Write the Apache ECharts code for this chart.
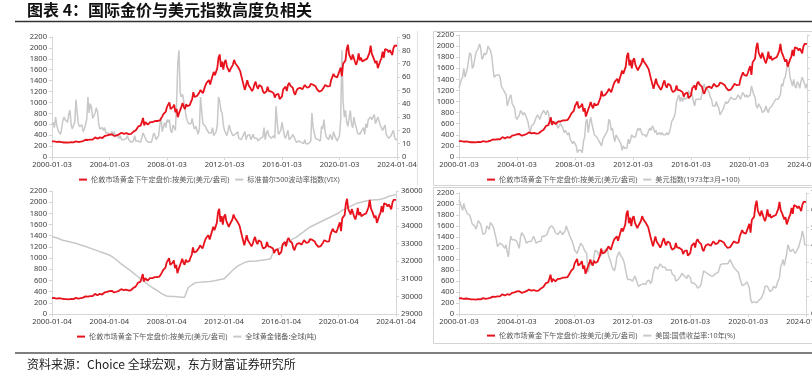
<!DOCTYPE html>
<html><head><meta charset="utf-8">
<script src="https://cdn.jsdelivr.net/npm/echarts@6/dist/echarts.min.js"></script>
<style>html,body{margin:0;padding:0;background:#fff}#c{width:812px;height:384px}</style>
</head><body><div id="c"></div>
<script>
// London PM gold fix, USD/oz (monthly readings, 2000-01 .. 2024-01)
const gold = [
285,305,286,279,275,288,282,275,274,270,266,272,
266,262,263,261,272,270,267,273,288,280,275,277,
283,297,293,303,316,322,312,310,320,317,319,340,
360,356,335,330,360,352,348,365,385,380,395,412,
410,400,415,395,385,392,398,405,415,425,445,440,
425,430,436,432,420,435,425,440,465,472,490,515,
560,555,575,640,715,580,640,625,595,600,640,630,
640,670,660,680,660,650,670,670,740,785,820,830,
920,960,1000,880,900,920,960,820,880,730,800,860,
920,990,920,880,970,930,940,950,1010,1060,1190,1100,
1080,1120,1110,1180,1230,1250,1170,1240,1310,1360,1390,1410,
1330,1410,1440,1560,1500,1510,1630,1820,1880,1650,1750,1600,
1740,1780,1660,1650,1560,1610,1620,1690,1780,1720,1730,1660,
1680,1580,1600,1400,1390,1230,1320,1410,1320,1350,1250,1210,
1250,1330,1380,1290,1250,1320,1300,1290,1210,1170,1190,1200,
1290,1210,1180,1200,1190,1170,1090,1140,1110,1160,1060,1060,
1110,1240,1230,1290,1210,1320,1360,1310,1320,1270,1180,1140,
1210,1250,1245,1270,1265,1240,1270,1320,1290,1270,1275,1290,
1340,1315,1325,1315,1295,1250,1220,1200,1190,1215,1225,1280,
1320,1315,1295,1275,1300,1410,1430,1525,1480,1510,1460,1515,
1580,1640,1480,1710,1730,1770,1970,2060,1880,1900,1780,1880,
1860,1740,1690,1770,1900,1770,1820,1750,1750,1780,1790,1800,
1790,1910,2040,1890,1840,1820,1720,1760,1630,1640,1760,1810,
1930,1820,1980,2000,1960,1920,1960,1920,1870,1990,2040,2070,
2040];
// S&P 500 volatility index (VIX)
const vix = [
24,26,22,30,24,20,19,17,21,27,30,28,
27,26,32,35,24,21,24,26,43,33,25,23,
22,24,19,21,21,28,45,33,40,37,29,30,
33,37,34,25,21,21,22,20,22,18,17,18,
16,15,19,17,19,15,17,17,14,16,13,13,
13,12,14,16,13,12,11,12,12,16,12,11,
12,12,11,12,18,16,15,12,12,11,10,11,
11,18,16,13,13,16,24,30,19,19,26,22,
28,26,28,20,18,24,25,20,40,70,80,48,
45,47,42,36,30,27,25,25,25,29,24,21,
23,22,17,21,45,34,25,26,23,21,22,18,
19,18,22,16,17,19,24,45,42,35,33,24,
20,18,16,17,24,20,19,16,15,17,16,19,
14,15,13,15,14,19,13,16,16,17,13,14,
17,14,15,14,12,11,14,13,15,22,13,18,
20,16,15,14,13,16,14,38,26,17,16,20,
26,25,16,14,15,20,13,12,15,17,15,13,
11,11,12,13,11,11,10,13,10,10,10,10,
12,33,22,18,14,14,13,12,12,23,21,28,
19,15,15,13,17,16,13,19,16,14,12,13,
16,28,80,42,30,35,26,23,29,35,25,22,
30,25,22,18,19,17,19,18,22,17,25,22,
28,29,30,28,30,32,25,24,30,31,24,22,
20,21,24,17,17,14,13,16,17,20,15,13,
13];
// US dollar index (1973-03 = 100)
const dxy = [
101,103,105,106,110,106,108,110,114,117,116,110,
111,114,117,117,119,121,119,114,115,117,116,117,
120,119,118,116,111,106,106,107,107,107,106,102,
101,100,100,98,93,95,97,98,94,93,92,88,
87,88,89,91,90,89,90,89,89,86,83,81,
84,84,85,85,88,89,89,87,89,90,91,91,
89,91,90,86,85,86,85,85,86,86,83,84,
85,84,83,81,82,82,80,81,78,77,76,77,
76,75,72,73,73,73,72,77,79,86,87,81,
85,88,85,85,80,80,79,78,77,76,75,78,
79,80,81,82,87,86,82,83,79,77,80,80,
78,77,76,73,75,74,74,74,78,76,78,80,
79,79,79,79,83,82,83,81,80,80,80,79,
79,82,83,82,84,83,81,82,80,80,81,80,
81,80,80,80,81,80,81,83,86,87,88,90,
95,95,98,95,97,95,97,96,96,97,100,98,
99,98,95,93,96,96,96,96,96,98,101,103,
100,101,100,99,97,96,93,93,93,95,93,92,
89,90,90,92,94,95,94,95,95,97,97,96,
96,96,97,98,98,96,98,99,99,97,98,97,
97,98,102,100,98,97,93,92,94,94,92,90,
90,91,93,91,90,92,92,93,94,94,96,96,
96,97,98,103,102,105,106,109,112,111,106,104,
102,105,102,101,104,103,101,104,106,106,103,101,
103];
// Global gold reserves, tonnes (quarterly, 2000Q1 .. 2024Q1)
const reservesQ = [
33400,33350,33280,33200, 33150,33100,33050,33000, 32930,32870,32800,32720,
32650,32580,32500,32430, 32360,32230,32080,31900, 31750,31600,31450,31280,
31120,30960,30800,30650, 30500,30380,30250,30120, 30025,30000,29990,29980,
29960,29950,30500,30650, 30780,30800,30820,30840, 30850,30880,30920,30960,
31000,31200,31400,31600, 31750,31850,31950,32000, 32000,32020,32050,32080,
32100,32150,32650,32700, 32800,32950,33100,33250, 33350,33500,33650,33800,
33950,34050,34150,34250, 34350,34450,34550,34650, 34750,34900,35000,35100,
35200,35300,35350,35400, 35450,35480,35500,35500, 35550,35600,35700,35750,
35800];
// US 10-year treasury yield, %
const ust10y = [
6.6,6.5,6.2,6.0,6.4,6.1,6.0,5.8,5.8,5.7,5.6,5.2,
5.2,5.1,4.9,5.1,5.4,5.3,5.2,4.9,4.6,4.6,4.7,5.1,
5.0,4.9,5.3,5.2,5.1,4.9,4.6,4.3,3.9,3.9,4.1,4.0,
4.0,3.9,3.8,4.0,3.6,3.3,4.0,4.5,4.3,4.3,4.3,4.3,
4.2,4.1,3.8,4.4,4.7,4.7,4.5,4.3,4.1,4.1,4.2,4.2,
4.2,4.2,4.5,4.3,4.1,4.0,4.2,4.3,4.2,4.5,4.5,4.5,
4.4,4.6,4.7,5.0,5.1,5.1,5.1,4.9,4.7,4.7,4.6,4.6,
4.8,4.7,4.6,4.7,4.8,5.1,5.0,4.7,4.5,4.5,4.2,4.1,
3.7,3.7,3.5,3.7,3.9,4.1,4.0,3.9,3.7,3.8,3.5,2.4,
2.5,2.9,2.8,2.9,3.3,3.7,3.6,3.6,3.4,3.4,3.4,3.6,
3.7,3.7,3.7,3.8,3.4,3.2,3.0,2.7,2.6,2.5,2.8,3.3,
3.4,3.6,3.4,3.5,3.2,3.0,3.0,2.3,2.0,2.1,2.0,2.0,
1.9,1.97,2.2,2.0,1.8,1.6,1.5,1.7,1.7,1.75,1.65,1.7,
1.9,2.0,1.95,1.75,1.9,2.3,2.6,2.75,2.8,2.6,2.7,2.9,
2.85,2.7,2.7,2.7,2.55,2.6,2.55,2.45,2.55,2.3,2.35,2.2,
1.9,2.0,2.0,1.95,2.2,2.35,2.3,2.2,2.2,2.05,2.25,2.25,
2.1,1.8,1.9,1.8,1.8,1.65,1.5,1.55,1.6,1.75,2.15,2.5,
2.45,2.4,2.5,2.3,2.3,2.2,2.3,2.2,2.25,2.35,2.35,2.4,
2.6,2.85,2.85,2.9,3.0,2.9,2.9,2.9,3.0,3.15,3.1,2.85,
2.7,2.65,2.55,2.5,2.4,2.1,2.05,1.65,1.7,1.7,1.8,1.85,
1.75,1.5,0.9,0.65,0.67,0.7,0.6,0.65,0.68,0.8,0.85,0.92,
1.1,1.25,1.6,1.65,1.6,1.5,1.3,1.3,1.4,1.6,1.55,1.5,
1.75,1.95,2.1,2.75,2.9,3.15,2.8,2.9,3.5,4.0,3.9,3.6,
3.6,3.75,3.65,3.5,3.6,3.75,3.9,4.15,4.4,4.8,4.5,4.0,
4.0];
const ticksA = ['2000-01-03','2004-01-03','2008-01-03','2012-01-03','2016-01-03','2020-01-03','2024-01-04'];
const ticksB = ['2000-01-04','2004-01-04','2008-01-04','2012-01-04','2016-01-04','2020-01-04','2024-01-04'];
const ticksC = ['2000-01-03','2004-01-03','2008-01-03','2012-01-03','2016-01-03','2020-01-03','2024-01-03'];

const months = [];
for (let y = 2000; y <= 2024; y++) for (let m = 1; m <= 12; m++) {
  if (y === 2024 && m > 1) break;
  months.push(y + '-' + String(m).padStart(2, '0'));
}
const reserves = months.map((_, i) => (i % 3 === 0 ? reservesQ[i / 3] : null));

const RED = '#e8121c', GRAY = '#c8c8c8';
const AX = '#d6d6d6', LBL = '#404040';
const FF = "'Noto Sans','Noto Sans CJK SC',sans-serif";
const GN = '伦敦市场黄金下午定盘价:按美元(美元/盎司)';
const names = ['标准普尔500波动率指数(VIX)', '美元指数(1973年3月=100)', '全球黄金储备:全球(吨)', '美国:国债收益率:10年(%)'];

const grids = [
  {left: 52, top: 37, width: 345, height: 120},
  {left: 459, top: 35, width: 348, height: 122},
  {left: 52, top: 191, width: 344, height: 123},
  {left: 459, top: 193, width: 347, height: 121}
];
const tickSets = [ticksA, ticksC, ticksB, ticksC];
const rights = [
  {min: 0, max: 90, interval: 10},
  {min: 70, max: 125, interval: 5},
  {min: 29000, max: 36000, interval: 1000},
  {min: 0, max: 7, interval: 1}
];
const others = [vix, dxy, reserves, ust10y];
const plain = (v) => String(v);

const xAxis = [], yAxis = [], series = [], legend = [];
const legendPos = [[79, 176], [487, 176], [77, 333], [487, 332]];
grids.forEach((g, i) => {
  const tl = tickSets[i];
  xAxis.push({
    type: 'category', gridIndex: i, data: months, boundaryGap: false,
    axisLine: {show: true, lineStyle: {color: AX}},
    axisTick: {show: true, length: 3, interval: (idx) => idx % 48 === 0, lineStyle: {color: AX}},
    axisLabel: {interval: (idx) => idx % 48 === 0, formatter: (v, idx) => tl[idx / 48],
      fontSize: 7.6, color: LBL, fontFamily: FF, margin: 4, showMaxLabel: true, hideOverlap: false},
    splitLine: {show: false}
  });
  yAxis.push({
    type: 'value', gridIndex: i, min: 0, max: 2200, interval: 200, position: 'left',
    axisLine: {show: true, lineStyle: {color: AX}},
    axisTick: {show: true, length: 3, lineStyle: {color: AX}},
    axisLabel: {fontSize: 7.6, color: LBL, fontFamily: FF, margin: 5, formatter: plain},
    splitLine: {show: false}
  });
  yAxis.push(Object.assign({
    type: 'value', gridIndex: i, position: 'right',
    axisLine: {show: true, lineStyle: {color: AX}},
    axisTick: {show: true, length: 3, lineStyle: {color: AX}},
    axisLabel: {fontSize: 7.6, color: LBL, fontFamily: FF, margin: 5, formatter: plain},
    splitLine: {show: false}
  }, rights[i]));
  series.push({
    name: names[i], type: 'line', xAxisIndex: i, yAxisIndex: 2 * i + 1, data: others[i],
    showSymbol: false, connectNulls: true, lineStyle: {color: GRAY, width: 1.5}, itemStyle: {color: GRAY},
    animation: false, z: 2
  });
  series.push({
    name: GN, type: 'line', xAxisIndex: i, yAxisIndex: 2 * i, data: gold,
    showSymbol: false, lineStyle: {color: RED, width: 1.8}, itemStyle: {color: RED},
    animation: false, z: 3
  });
  legend.push({
    left: legendPos[i][0], top: legendPos[i][1], padding: 0, itemWidth: 8, itemHeight: 2, itemGap: 6,
    icon: 'rect', selectedMode: false,
    textStyle: {fontSize: 7.2, color: '#595959', fontFamily: FF, padding: [0, 0, 0, -1]},
    data: [{name: GN, itemStyle: {color: RED}}, {name: names[i], itemStyle: {color: GRAY}}]
  });
});

const chart = echarts.init(document.getElementById('c'), null, {renderer: 'canvas'});
chart.setOption({
  animation: false,
  backgroundColor: '#fff',
  grid: grids.map(g => Object.assign({containLabel: false, outerBoundsMode: 'none'}, g)),
  xAxis, yAxis, series, legend,
  graphic: [
    {type: 'text', left: 27, top: 2, style: {text: '图表 4：国际金价与美元指数高度负相关', fontSize: 16, fontWeight: 'bold', fill: '#111', fontFamily: "'Noto Sans CJK SC',sans-serif"}},
    {type: 'line', shape: {x1: 15, y1: 21.5, x2: 812, y2: 21.5}, style: {stroke: '#333', lineWidth: 1.5}},
    {type: 'line', shape: {x1: 15, y1: 353, x2: 812, y2: 353}, style: {stroke: '#555', lineWidth: 1.5}},
    {type: 'text', left: 27, top: 358, style: {text: '资料来源：Choice 全球宏观，东方财富证券研究所', fontSize: 12, fill: '#222', fontFamily: "'Noto Sans CJK SC',sans-serif"}},
    {type: 'rect', shape: {x: 433.5, y: 31.5, width: 400, height: 154}, style: {fill: 'none', stroke: '#d4d4d4', lineWidth: 1}},
    {type: 'rect', shape: {x: 433.5, y: 187.5, width: 400, height: 156}, style: {fill: 'none', stroke: '#d4d4d4', lineWidth: 1}},
    {type: 'line', shape: {x1: 417.5, y1: 31, x2: 417.5, y2: 185}, style: {stroke: '#e2e2e2', lineWidth: 1}}
  ]
});
</script>
</body></html>
